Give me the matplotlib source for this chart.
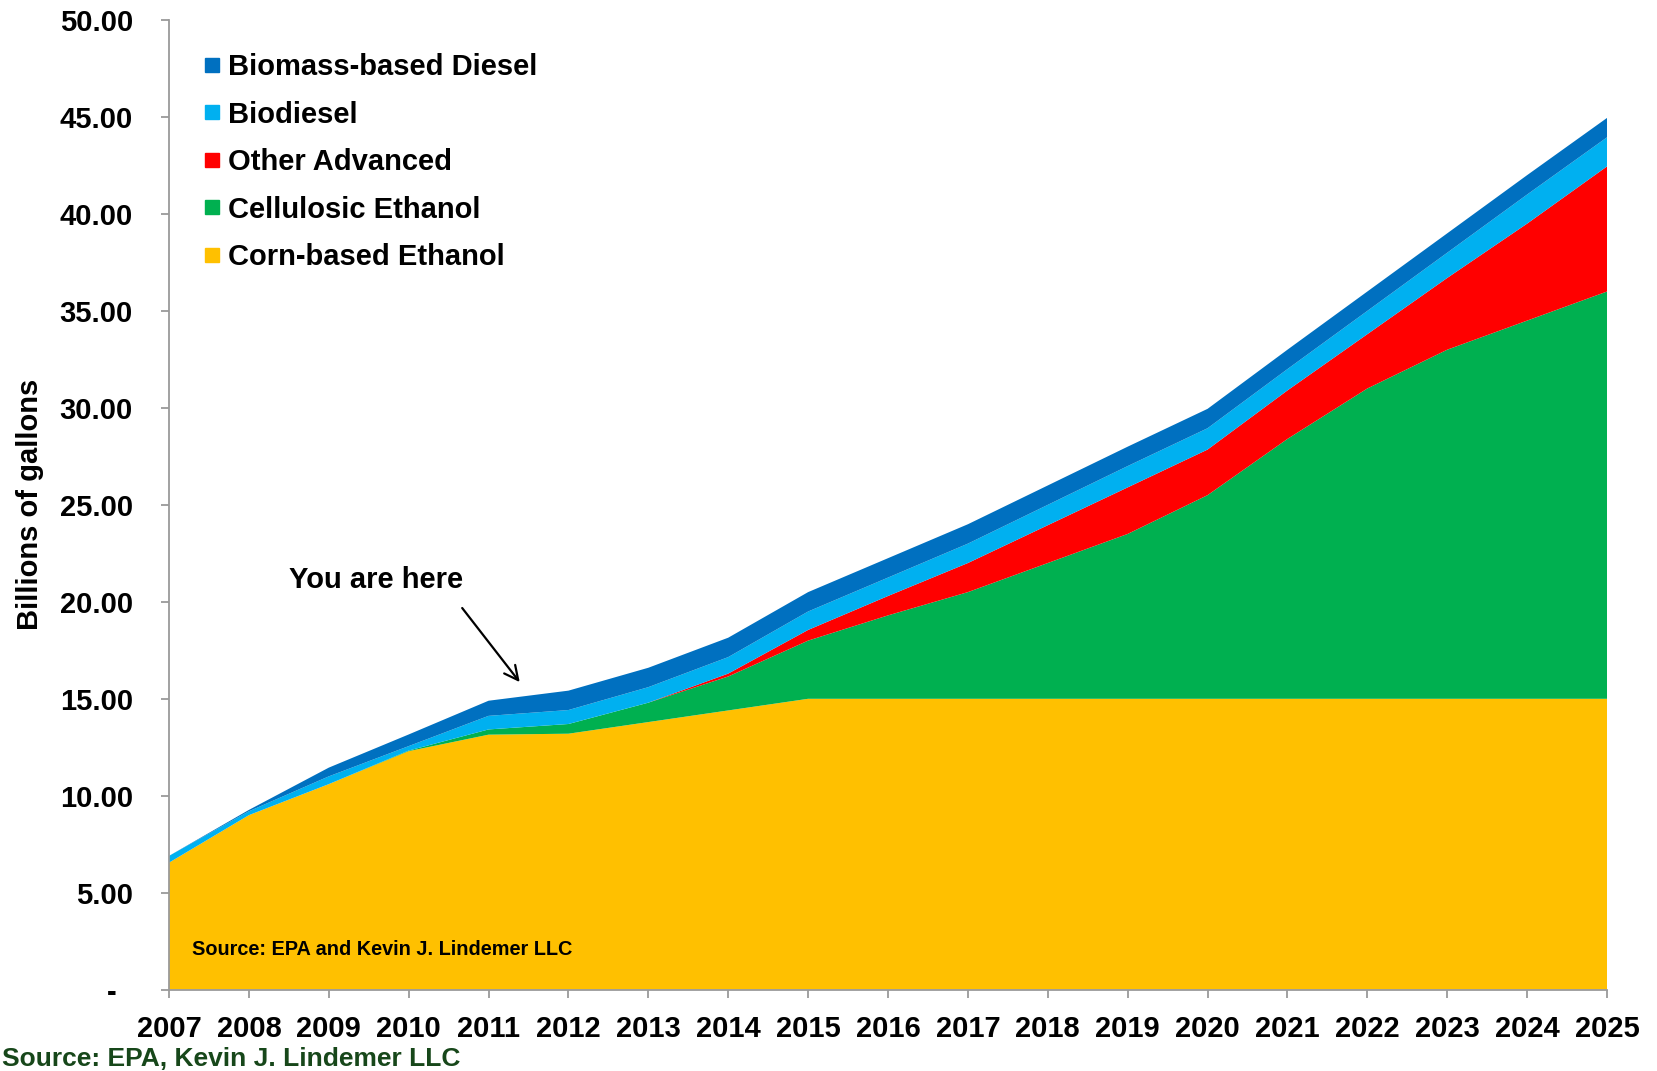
import matplotlib
matplotlib.use("Agg")
import matplotlib.pyplot as plt
from matplotlib.lines import Line2D

plt.rcParams['font.family'] = ['Liberation Sans', 'DejaVu Sans']
plt.rcParams['font.weight'] = 'bold'

# RFS volumes by category, billions of gallons
years = list(range(2007, 2026))
corn_ethanol = [6.55, 9.0, 10.6, 12.3, 13.15, 13.2, 13.8, 14.4, 15.0, 15.0,
                15.0, 15.0, 15.0, 15.0, 15.0, 15.0, 15.0, 15.0, 15.0]
cellulosic = [0.0, 0.0, 0.0, 0.03, 0.27, 0.5, 1.0, 1.75, 3.0, 4.3,
              5.5, 7.0, 8.5, 10.5, 13.4, 16.0, 18.0, 19.5, 21.0]
other_advanced = [0.0, 0.0, 0.0, 0.0, 0.0, 0.0, 0.0, 0.15, 0.55, 1.0,
                  1.5, 1.95, 2.4, 2.35, 2.5, 2.8, 3.7, 5.0, 6.45]
biodiesel = [0.35, 0.2, 0.4, 0.23, 0.7, 0.72, 0.8, 0.85, 0.95, 0.95,
             1.0, 1.05, 1.1, 1.1, 1.1, 1.2, 1.3, 1.5, 1.5]
biomass_diesel = [0.0, 0.07, 0.45, 0.6, 0.78, 1.0, 1.0, 1.0, 1.0, 1.0,
                  1.0, 1.0, 1.0, 1.0, 1.0, 1.0, 1.0, 1.0, 1.0]

labels = ["Corn-based Ethanol", "Cellulosic Ethanol", "Other Advanced",
          "Biodiesel", "Biomass-based Diesel"]
colors = ["#FFC000", "#00B050", "#FF0000", "#00B0F0", "#0070C0"]
y_ticks = [0, 5, 10, 15, 20, 25, 30, 35, 40, 45, 50]

W, H = 1658, 1071
fig = plt.figure(figsize=(W / 100, H / 100), dpi=100)
ax = fig.add_axes([169 / W, 1 - 989.7 / H, 1438 / W, 969.7 / H])

ax.stackplot(years, corn_ethanol, cellulosic, other_advanced, biodiesel,
             biomass_diesel, colors=colors, linewidth=0)

ax.set_xlim(years[0], years[-1])
ax.set_ylim(0, 50)
ax.set_xticks(years)
ax.set_xticklabels([str(y) for y in years])
ax.set_yticks(y_ticks)
ax.set_yticklabels(["-  " if v == 0 else f"{v:.2f}" for v in y_ticks])

for side in ["top", "right"]:
    ax.spines[side].set_visible(False)
for side in ["left", "bottom"]:
    ax.spines[side].set_color("#9a9a9a")
    ax.spines[side].set_linewidth(1.3)
ax.tick_params(axis="both", colors="#9a9a9a", length=6, width=1.3,
               labelcolor="black", labelsize=21)
ax.tick_params(axis="x", pad=12)
ax.tick_params(axis="y", pad=20)
for t in ax.get_xticklabels() + ax.get_yticklabels():
    t.set_fontweight("bold")

ax.set_ylabel("Billions of gallons", fontsize=21, fontweight="bold")
ax.yaxis.set_label_coords(-0.087, 0.5)

# legend listed top layer first
handles = [Line2D([0], [0], marker="s", linestyle="none", markersize=10,
                  markerfacecolor=c, markeredgecolor=c)
           for c in colors[::-1]]
leg = ax.legend(handles, labels[::-1], loc="upper left",
                bbox_to_anchor=(0.023, 0.966), frameon=False,
                prop={"size": 21, "weight": "bold"}, handlelength=0.7,
                handletextpad=0.2, labelspacing=0.67, borderpad=0,
                borderaxespad=0)

ax.text(2009.59, 21.15, "You are here", fontsize=21, fontweight="bold",
        ha="center", va="center")
ax.annotate("", xy=(2011.39, 15.86), xytext=(2010.67, 19.68),
            arrowprops=dict(arrowstyle="->", color="black", lw=1.6,
                            mutation_scale=25, shrinkA=0, shrinkB=0))

ax.text(2007.29, 2.05, "Source: EPA and Kevin J. Lindemer LLC",
        fontsize=14.3, fontweight="bold", va="center", ha="left")

fig.text(0.001, 1 - 1059 / H, "Source: EPA, Kevin J. Lindemer LLC",
         fontsize=19, fontweight="bold", color="#17471a", va="center",
         ha="left")

fig.savefig("out.png", dpi=100)
